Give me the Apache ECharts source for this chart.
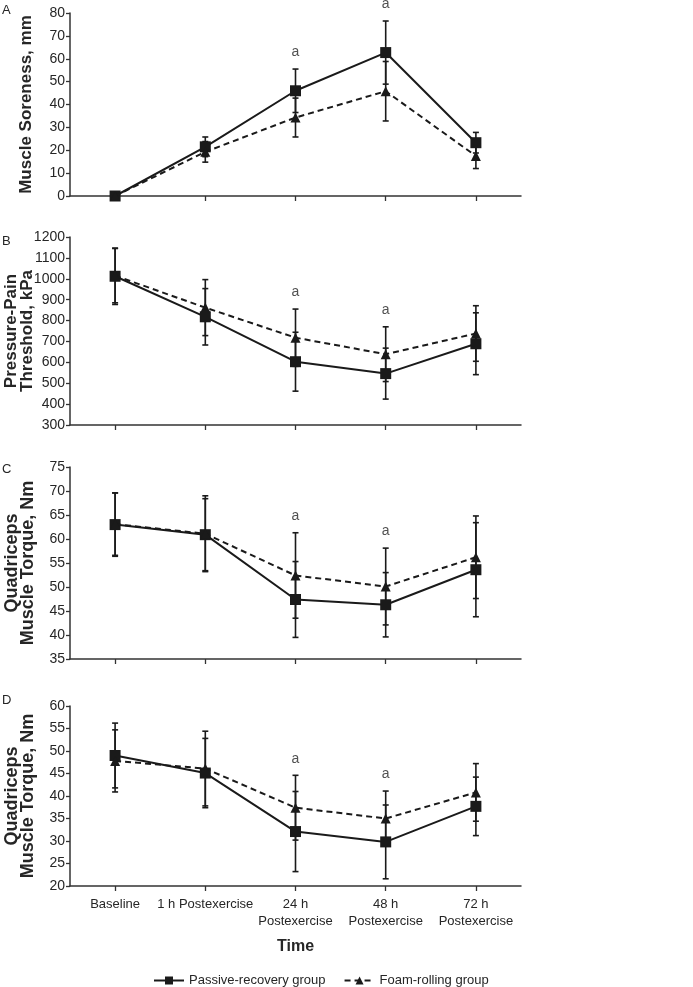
<!DOCTYPE html>
<html><head><meta charset="utf-8">
<script src="https://cdn.jsdelivr.net/npm/echarts@6/dist/echarts.min.js"></script>
<style>html,body{margin:0;padding:0;background:#fff}#c{width:693px;height:987px}</style>
</head><body><div id="c"></div>
<script>
// ---------- data ----------
const categories = ['Baseline', '1 h Postexercise', '24 h\nPostexercise', '48 h\nPostexercise', '72 h\nPostexercise'];
const seriesNames = ['Passive-recovery group', 'Foam-rolling group'];

const sorenessPassive   = [0, 21.5, 46.0, 62.7, 23.3];
const sorenessPassiveSD = [0, 4.3, 9.5, 13.8, 4.5];
const sorenessFoam      = [0, 19.3, 34.3, 45.8, 17.5];
const sorenessFoamSD    = [0, 4.5, 8.5, 13.0, 5.5];

const pptPassive   = [1012, 818, 603, 546, 689];
const pptPassiveSD = [135, 135, 141, 122, 148];
const pptFoam      = [1015, 862, 718, 639, 738];
const pptFoamSD    = [130, 134, 137, 131, 133];

const torqueCPassive   = [63.0, 60.9, 47.4, 46.3, 53.6];
const torqueCPassiveSD = [6.6, 7.5, 7.9, 6.7, 9.8];
const torqueCFoam      = [63.1, 61.1, 52.4, 50.1, 56.2];
const torqueCFoamSD    = [6.5, 7.9, 8.9, 8.0, 8.6];

const torqueDPassive   = [49.0, 45.1, 32.1, 29.8, 37.7];
const torqueDPassiveSD = [7.2, 7.7, 8.9, 8.2, 6.5];
const torqueDFoam      = [47.8, 46.1, 37.4, 35.0, 40.8];
const torqueDFoamSD    = [6.9, 8.3, 7.2, 6.1, 6.4];

const significantIdx = [2, 3];   // categories marked "a"
const panelLetters = ['A', 'B', 'C', 'D'];
const yTitles = ['Muscle Soreness, mm', 'Pressure-Pain\nThreshold, kPa', 'Quadriceps\nMuscle Torque, Nm', 'Quadriceps\nMuscle Torque, Nm'];
const yRanges = [[0, 80, 10], [300, 1200, 100], [35, 75, 5], [20, 60, 5]];

// ---------- layout ----------
const FONT = '"Liberation Sans",Arial,sans-serif';
const INK = '#1a1a1a';
const TXT = '#262626';
const layout = [
  {top: 13,  height: 183, nameGap: 36, nameSize: 17, letterTop: 4},
  {top: 237, height: 188, nameGap: 35, nameSize: 17, letterTop: 235},
  {top: 467, height: 192, nameGap: 34, nameSize: 18, letterTop: 463},
  {top: 706, height: 180, nameGap: 34, nameSize: 18, letterTop: 694}
];
const data = [
  [sorenessPassive, sorenessPassiveSD, sorenessFoam, sorenessFoamSD],
  [pptPassive, pptPassiveSD, pptFoam, pptFoamSD],
  [torqueCPassive, torqueCPassiveSD, torqueCFoam, torqueCFoamSD],
  [torqueDPassive, torqueDPassiveSD, torqueDFoam, torqueDFoamSD]
];

const grid = [], xAxis = [], yAxis = [], series = [], graphic = [];

function errRender(params, api) {
  const x = api.value(0);
  const lo = api.coord([x, api.value(1)]);
  const hi = api.coord([x, api.value(2)]);
  const cw = 3;
  const st = {stroke: INK, lineWidth: 1.6};
  return {type: 'group', children: [
    {type: 'line', shape: {x1: lo[0], y1: lo[1], x2: hi[0], y2: hi[1]}, style: st},
    {type: 'line', shape: {x1: lo[0]-cw, y1: lo[1], x2: lo[0]+cw, y2: lo[1]}, style: st},
    {type: 'line', shape: {x1: hi[0]-cw, y1: hi[1], x2: hi[0]+cw, y2: hi[1]}, style: st}
  ]};
}

layout.forEach((L, i) => {
  const [p, pSD, f, fSD] = data[i];
  const [mn, mx, iv] = yRanges[i];
  const last = i === layout.length - 1;
  grid.push({left: 70, right: 172, top: L.top, height: L.height, containLabel: false, outerBoundsMode: 'none'});
  xAxis.push({
    type: 'category', gridIndex: i, data: categories, boundaryGap: true,
    axisLine: {show: true, lineStyle: {color: '#333', width: 1.5}},
    axisTick: {show: true, alignWithLabel: true, length: 5, lineStyle: {color: '#333', width: 1.3}},
    axisLabel: {show: last, interval: 0, margin: 10, fontFamily: FONT, fontSize: 13, color: TXT, lineHeight: 17},
    name: last ? 'Time' : '', nameLocation: 'middle', nameGap: 53, nameMoveOverlap: false,
    nameTextStyle: {fontFamily: FONT, fontWeight: 'bold', fontSize: 16, color: TXT},
    splitLine: {show: false}
  });
  yAxis.push({
    type: 'value', gridIndex: i, min: mn, max: mx, interval: iv,
    axisLine: {show: true, lineStyle: {color: '#333', width: 1.5}},
    axisTick: {show: true, length: 4, lineStyle: {color: '#333', width: 1.3}},
    axisLabel: {margin: 5, fontFamily: FONT, fontSize: 14, color: TXT, formatter: v => String(v)},
    splitLine: {show: false},
    name: yTitles[i], nameLocation: 'middle', nameRotate: 90, nameGap: L.nameGap, nameMoveOverlap: false,
    nameTextStyle: {fontFamily: FONT, fontWeight: 'bold', fontSize: L.nameSize, color: TXT, lineHeight: 16}
  });
  graphic.push({type: 'text', left: 2, top: L.letterTop,
    style: {text: panelLetters[i], font: '13px ' + FONT, fill: TXT}});

  // error bars
  const pErr = p.map((v, k) => [k, v - pSD[k], v + pSD[k]]).filter(d => d[2] > d[1]);
  const fErr = f.map((v, k) => [k, v - fSD[k], v + fSD[k]]).filter(d => d[2] > d[1]);
  series.push({type: 'custom', name: 'errP' + i, xAxisIndex: i, yAxisIndex: i, renderItem: errRender, data: pErr, silent: true, z: 2});
  series.push({type: 'custom', name: 'errF' + i, xAxisIndex: i, yAxisIndex: i, renderItem: errRender, data: fErr, silent: true, z: 2});
  series.push({
    type: 'line', name: seriesNames[0], xAxisIndex: i, yAxisIndex: i, data: p,
    symbol: 'rect', symbolSize: 11, showAllSymbol: true,
    lineStyle: {color: INK, width: 2}, itemStyle: {color: INK}, z: 3
  });
  series.push({
    type: 'line', name: seriesNames[1], xAxisIndex: i, yAxisIndex: i, data: f,
    symbol: 'triangle', symbolSize: 10, showAllSymbol: true,
    lineStyle: {color: INK, width: 2, type: [6, 4]}, itemStyle: {color: INK}, z: 4
  });
  // significance markers "a" above the highest error bar
  const sig = significantIdx.map(k => [k, Math.max(p[k] + pSD[k], f[k] + fSD[k])]);
  series.push({
    type: 'scatter', name: 'sig' + i, xAxisIndex: i, yAxisIndex: i, data: sig,
    symbolSize: 1, itemStyle: {color: 'transparent'}, silent: true,
    label: {show: true, position: 'top', distance: 9, formatter: 'a', fontFamily: FONT, fontSize: 14, color: TXT}
  });
});

const chart = echarts.init(document.getElementById('c'), null, {renderer: 'canvas'});
chart.setOption({
  animation: false,
  backgroundColor: '#fff',
  grid, xAxis, yAxis, series, graphic,
  legend: {
    data: seriesNames, left: 148, top: 969, itemWidth: 30, itemHeight: 10, itemGap: 18,
    textStyle: {fontFamily: FONT, fontSize: 13, color: TXT}
  }
});
</script></body></html>
